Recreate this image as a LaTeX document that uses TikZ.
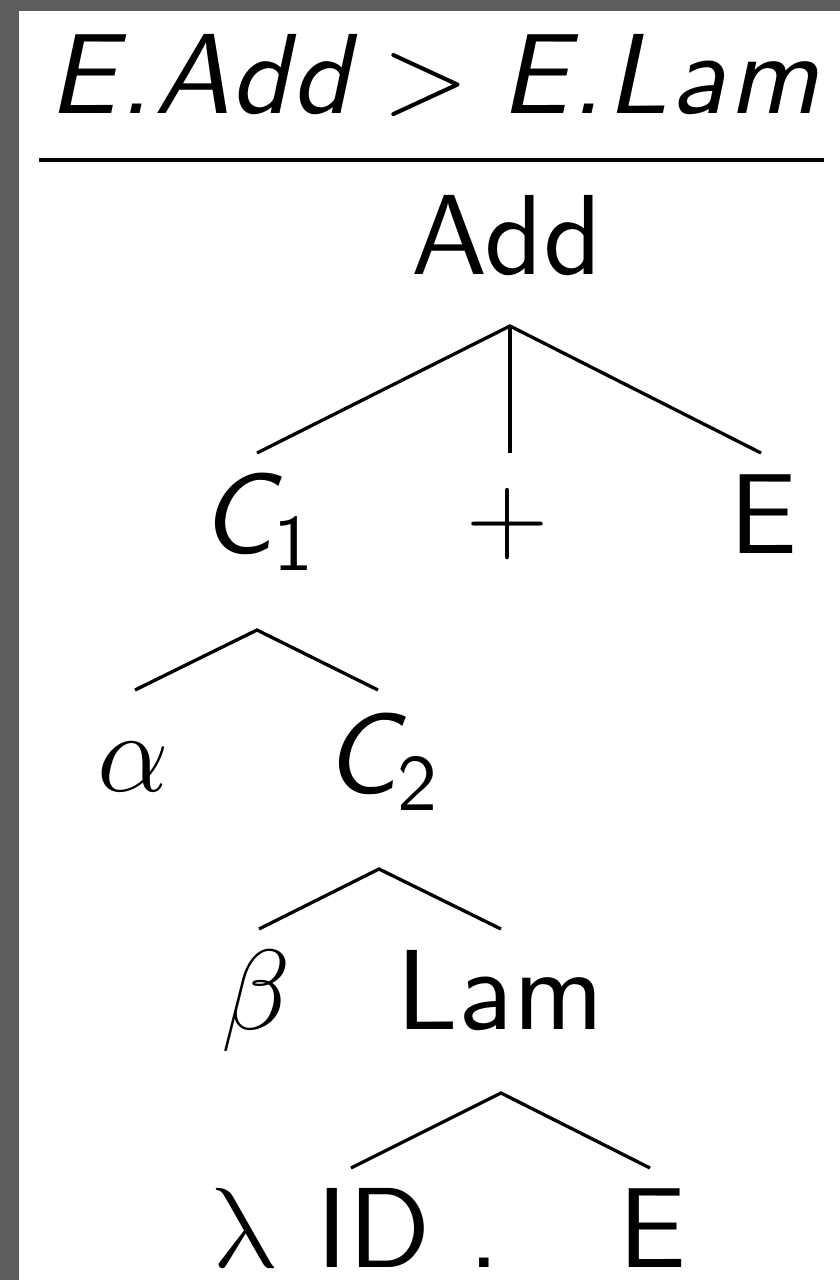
\RequirePackage{fix-cm}
\documentclass[tikz,border=0pt]{standalone}
\usepackage{amsmath}
\usepackage{fontspec}
\setsansfont{lmsans10-regular.otf}[ItalicFont=lmsans10-oblique.otf, SlantedFont=lmsans10-oblique.otf]
\definecolor{framegray}{RGB}{93,93,93}
\newcommand{\ttlword}[1]{\textit{\addfontfeature{LetterSpace=2.5}#1}}
\begin{document}
\begin{tikzpicture}[x=1pt,y=-1pt,
  lbl/.style={inner sep=0pt, anchor=base, font=\fontsize{114}{137}\selectfont\sffamily},
  branch/.style={line width=3.3pt, black}]
\useasboundingbox (0,0) rectangle (840,1280);
\fill[framegray] (0,0) rectangle (840,1280);
\fill[white] (19,11) rectangle (840,1280);
% title and rule
\node[lbl] (title) at (434,113) {$\ttlword{E.Add} > \ttlword{E.Lam}$};
\draw[line width=4.5pt] (39,160) -- (824,160);
% nodes
\node[lbl] (add) at (507,274) {Add};
\node[lbl] (c1) at (257,553) {$\textit{C}_{\textup{1}}$};
\node[lbl] (plus) at (508,552) {$+$};
\node[lbl] (e1) at (764,553) {E};
\node[lbl] (alpha) at (133,791) {$\alpha$};
\node[lbl] (c2) at (381,793) {$\textit{C}_{\textup{2}}$};
\node[lbl] (beta) at (256,1029) {$\beta$};
\node[lbl] (lam) at (500,1029) {Lam};
\node[lbl] (lid) at (348,1267) {\tikz[baseline=0pt]\node[inner sep=0pt,anchor=base,xslant=-0.22] {$\lambda$};\ ID\ .};
\node[lbl] (e2) at (653,1267) {E};
% branch points
\coordinate (a1) at (510,326);
\coordinate (a1l) at (257,453);
\coordinate (a1m) at (510,453);
\coordinate (a1r) at (761,453);
\coordinate (a2) at (257,630);
\coordinate (a2l) at (135,690);
\coordinate (a2r) at (378,690);
\coordinate (a3) at (379,869);
\coordinate (a3l) at (259,929);
\coordinate (a3r) at (501,929);
\coordinate (a4) at (501,1093);
\coordinate (a4l) at (351,1168);
\coordinate (a4r) at (650,1168);
\draw[branch] (a1l) -- (a1) -- (a1r);
\draw[branch] (a1) -- (a1m);
\draw[branch] (a2l) -- (a2) -- (a2r);
\draw[branch] (a3l) -- (a3) -- (a3r);
\draw[branch] (a4l) -- (a4) -- (a4r);
\end{tikzpicture}
\end{document}
